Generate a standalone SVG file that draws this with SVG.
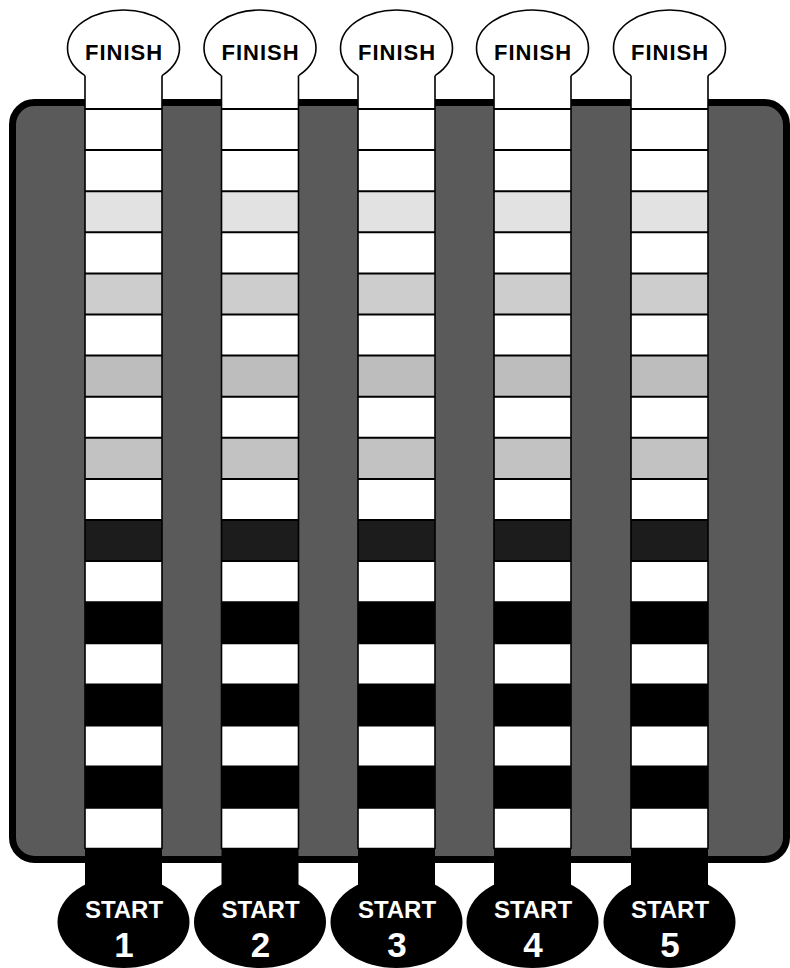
<svg xmlns="http://www.w3.org/2000/svg" xmlns:xlink="http://www.w3.org/1999/xlink" width="790" height="968" viewBox="0 0 790 968">
<style>
.fin{fill:#fff;stroke:#000;stroke-width:1.6}
.side{stroke:#000;stroke-width:1.6;fill:none}
.div{stroke:#000;stroke-width:2}
.g1{fill:#e2e2e2}.g2{fill:#cdcdcd}.g3{fill:#bdbdbd}.g4{fill:#c2c2c2}.dk{fill:#1c1c1c}.bk{fill:#000}
.ft{font-family:"Liberation Sans",Arial,sans-serif;font-weight:bold;font-size:22px;letter-spacing:1px;fill:#000;text-anchor:middle}
.st{font-family:"Liberation Sans",Arial,sans-serif;font-weight:bold;font-size:24px;fill:#fff;text-anchor:middle}
.sn{font-family:"Liberation Sans",Arial,sans-serif;font-weight:bold;font-size:35px;fill:#fff;text-anchor:middle}
</style>
<defs>
<g id="strip">
<ellipse class="fin" cx="38.5" cy="48" rx="56" ry="38"/>
<rect x="0" y="62" width="77" height="787" fill="#fff"/>
<rect class="g1" x="0" y="191.2" width="77" height="41.1"/>
<rect class="g2" x="0" y="273.4" width="77" height="41.1"/>
<rect class="g3" x="0" y="355.6" width="77" height="41.1"/>
<rect class="g4" x="0" y="437.8" width="77" height="41.1"/>
<rect class="dk" x="0" y="520" width="77" height="41.1"/>
<rect class="bk" x="0" y="602.2" width="77" height="41.1"/>
<rect class="bk" x="0" y="684.4" width="77" height="41.1"/>
<rect class="bk" x="0" y="766.6" width="77" height="41.1"/>
<rect class="bk" x="0" y="848.8" width="77" height="45"/>
<path class="div" d="M0 109H77M0 150.1H77M0 191.2H77M0 232.3H77M0 273.4H77M0 314.5H77M0 355.6H77M0 396.7H77M0 437.8H77M0 478.9H77M0 520H77M0 561.1H77M0 602.2H77M0 643.3H77M0 684.4H77M0 725.5H77M0 766.6H77M0 807.7H77M0 848.8H77"/>
<path class="side" d="M0 75.6V849M77 75.6V849"/>
<ellipse cx="38.5" cy="922" rx="66" ry="46" fill="#000"/>
</g>
</defs>
<rect x="0" y="0" width="790" height="968" fill="#fff"/>
<g id="board">
<rect x="12.5" y="102.5" width="774" height="757" rx="22" fill="#5a5a5a" stroke="#000" stroke-width="7"/>
</g>
<g id="lane1">
<use xlink:href="#strip" x="85"/>
<text class="ft" x="124" y="60">FINISH</text>
<text class="st" x="124" y="918">START</text>
<text class="sn" x="124" y="957">1</text>
</g>
<g id="lane2">
<use xlink:href="#strip" x="221.5"/>
<text class="ft" x="260.5" y="60">FINISH</text>
<text class="st" x="260.5" y="918">START</text>
<text class="sn" x="260.5" y="957">2</text>
</g>
<g id="lane3">
<use xlink:href="#strip" x="358"/>
<text class="ft" x="397" y="60">FINISH</text>
<text class="st" x="397" y="918">START</text>
<text class="sn" x="397" y="957">3</text>
</g>
<g id="lane4">
<use xlink:href="#strip" x="494"/>
<text class="ft" x="533" y="60">FINISH</text>
<text class="st" x="533" y="918">START</text>
<text class="sn" x="533" y="957">4</text>
</g>
<g id="lane5">
<use xlink:href="#strip" x="631"/>
<text class="ft" x="670" y="60">FINISH</text>
<text class="st" x="670" y="918">START</text>
<text class="sn" x="670" y="957">5</text>
</g>
<g id="connectors"/>
</svg>
